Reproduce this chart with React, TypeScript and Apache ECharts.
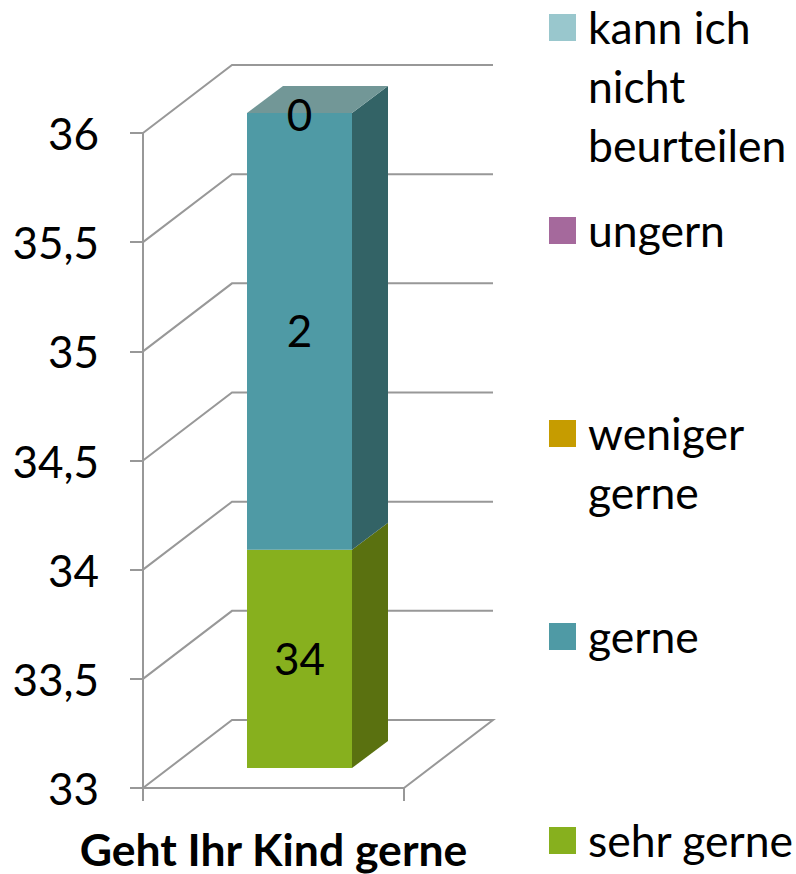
import React, { useEffect, useRef } from "react";
import * as echarts from "echarts";

const categories = ["Geht Ihr Kind gerne"];
const sehrGerne = [34];
const gerne = [2];
const wenigerGerne = [0];
const ungern = [0];
const kannIch = [0];
const wallTicks = [33, 33.5, 34, 34.5, 35, 35.5, 36];

const seriesNames = ["sehr gerne", "gerne", "weniger gerne", "ungern", "kann ich nicht beurteilen"];
const seriesValues = [sehrGerne, gerne, wenigerGerne, ungern, kannIch];
const seriesColors = ["#87b01e", "#4f9aa5", "#c69c00", "#a5699c", "#99c7cd"];
const sideColors = ["#5a7110", "#336366", "#806500", "#6b4465", "#639196"];
const topColor = "#729797";

const legendLabels = ["kann ich\nnicht\nbeurteilen", "ungern", "weniger\ngerne", "gerne", "sehr gerne"];
const legendColors = ["#99c7cd", "#a5699c", "#c69c00", "#4f9aa5", "#87b01e"];
const legendCentres = [27.5, 230.5, 433.5, 636.5, 840.5];

const FONT = "Lato, sans-serif";
const FONT_SIZE = 44;
const GRID_COLOR = "#989898";
const WALL_DX = 89;
const WALL_DY = -68;
const BAR_DX = 26;
const BAR_DY = -20;
const DEPTH_DX = 36;
const DEPTH_DY = -27;
const BAR_WIDTH = 105;
const AXIS_MIN = 33;

const wallRender = (_p: any, api: any) => {
  const v = api.value(1);
  const c = api.coord([0, v]);
  const w = api.size([1, 0])[0];
  const x0 = c[0] - w / 2;
  const y0 = c[1];
  const points: number[][] = [
    [x0, y0],
    [x0 + WALL_DX, y0 + WALL_DY],
    [x0 + WALL_DX + w, y0 + WALL_DY],
  ];
  if (v === AXIS_MIN) points.push([x0 + w, y0]);
  return {
    type: "polyline",
    shape: { points },
    style: { stroke: GRID_COLOR, lineWidth: 2, fill: "none" },
  };
};

const barRender = (index: number) => (_p: any, api: any) => {
  const start = api.value(1);
  const end = api.value(2);
  const isLast = index === seriesNames.length - 1;
  const a = api.coord([0, Math.max(start, AXIS_MIN)]);
  const b = api.coord([0, Math.max(end, AXIS_MIN)]);
  const xL = a[0] + BAR_DX - BAR_WIDTH / 2;
  const xR = xL + BAR_WIDTH;
  const yB = a[1] + BAR_DY;
  const yT = b[1] + BAR_DY;
  const children: any[] = [];
  if (yB > yT) {
    children.push({
      type: "rect",
      shape: { x: xL, y: yT, width: BAR_WIDTH, height: yB - yT },
      style: { fill: seriesColors[index] },
    });
    children.push({
      type: "polygon",
      shape: {
        points: [
          [xR, yT],
          [xR + DEPTH_DX, yT + DEPTH_DY],
          [xR + DEPTH_DX, yB + DEPTH_DY],
          [xR, yB],
        ],
      },
      style: { fill: sideColors[index] },
    });
  }
  if (isLast) {
    children.push({
      type: "polygon",
      shape: {
        points: [
          [xL, yT],
          [xL + DEPTH_DX, yT + DEPTH_DY],
          [xR + DEPTH_DX, yT + DEPTH_DY],
          [xR, yT],
        ],
      },
      style: { fill: topColor },
    });
  }
  if (yB > yT || isLast) {
    const raw = api.value(3);
    children.push({
      type: "text",
      z2: 10,
      style: {
        text: String(raw),
        x: (xL + xR) / 2,
        y: isLast ? yT + 1 : (yT + yB) / 2 - 1,
        align: "center",
        verticalAlign: "middle",
        fontSize: FONT_SIZE,
        fontFamily: FONT,
        fill: "#000",
      },
    });
  }
  return { type: "group", children };
};

export default function App() {
  const ref = useRef<HTMLDivElement>(null);
  useEffect(() => {
    document.body.style.margin = "0";
    const chart = echarts.init(ref.current!, undefined, { renderer: "svg" });
    let sum = 0;
    const barSeries = seriesValues.map((vals, i) => {
      const start = sum;
      sum += vals[0];
      return {
        type: "custom",
        name: seriesNames[i],
        coordinateSystem: "cartesian2d",
        z: 5 + i,
        clip: false,
        encode: { x: 0, y: 2 },
        data: [[0, start, sum, vals[0]]],
        renderItem: barRender(i),
      };
    });
    chart.setOption({
      animation: false,
      backgroundColor: "#fff",
      grid: { left: 143, top: 133, width: 261, height: 655, containLabel: false },
      xAxis: {
        type: "category",
        data: categories,
        boundaryGap: true,
        axisLine: { show: true, lineStyle: { color: GRID_COLOR, width: 2 } },
        axisTick: { show: true, length: 13, lineStyle: { color: GRID_COLOR, width: 2 } },
        axisLabel: {
          margin: 38,
          color: "#000",
          fontSize: 44.5,
          fontWeight: "bold",
          fontFamily: FONT,
          interval: 0,
        },
      },
      yAxis: {
        type: "value",
        min: 33,
        max: 36,
        interval: 0.5,
        splitLine: { show: false },
        axisLine: { show: true, lineStyle: { color: GRID_COLOR, width: 2 } },
        axisTick: { show: true, length: 13, lineStyle: { color: GRID_COLOR, width: 2 } },
        axisLabel: {
          margin: 44,
          color: "#000",
          fontSize: FONT_SIZE,
          fontFamily: FONT,
          formatter: (v: number) => String(v).replace(".", ","),
        },
      },
      graphic: legendLabels.flatMap((label, i) => [
        {
          type: "rect",
          shape: { x: 549, y: legendCentres[i] - 13.5, width: 27, height: 27 },
          style: { fill: legendColors[i] },
        },
        {
          type: "text",
          x: 588,
          y: legendCentres[i] - 31,
          style: {
            text: label,
            fontSize: 44.5,
            lineHeight: 59,
            fontFamily: FONT,
            fill: "#000",
            verticalAlign: "top",
          },
        },
      ]),
      series: [
        {
          type: "custom",
          name: "walls",
          coordinateSystem: "cartesian2d",
          z: 1,
          clip: false,
          encode: { x: 0, y: 1 },
          data: wallTicks.map((t) => [0, t]),
          renderItem: wallRender,
        },
        ...barSeries,
      ],
    });
    return () => chart.dispose();
  }, []);
  return <div ref={ref} style={{ width: 796, height: 874 }} />;
}
